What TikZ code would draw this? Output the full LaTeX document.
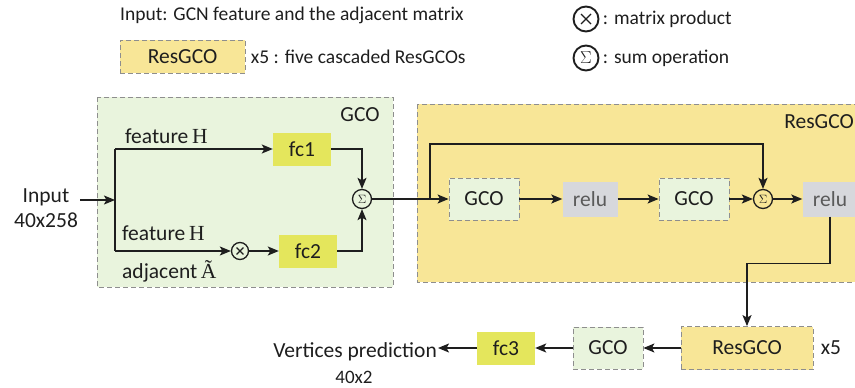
\documentclass[tikz,border=0pt]{standalone}
\usepackage[no-math]{fontspec}
\setmainfont{Carlito}
\newfontfamily\symserif{Liberation Serif}
\usetikzlibrary{arrows.meta,calc,positioning}
\definecolor{gcogreen}{HTML}{E9F4DD}
\definecolor{resyellow}{HTML}{F8E697}
\definecolor{fcyellow}{HTML}{E4E65C}
\definecolor{relugray}{HTML}{D7D8DC}
\definecolor{relutext}{HTML}{5A5A5A}
\definecolor{dashgray}{HTML}{8E8E8E}
\definecolor{inkdark}{HTML}{1E1E1E}

\begin{document}
\begin{tikzpicture}[x=1pt,y=-1pt,>={Stealth[length=11pt,width=9pt,inset=2.5pt]},
  font=\fontsize{21.5}{24}\selectfont,text=inkdark,
  legendtext/.style={font=\fontsize{19.5}{22}\selectfont},
  flow/.style={draw=inkdark,line width=1.5pt},
  gcobox/.style={draw=dashgray,dash pattern=on 5pt off 3pt,line width=0.8pt,fill=gcogreen,minimum width=70pt,minimum height=42pt,inner sep=0pt},
  resbox/.style={draw=dashgray,dash pattern=on 5pt off 3pt,line width=0.8pt,fill=resyellow,minimum width=132pt,minimum height=43pt,inner sep=0pt},
  fcbox/.style={fill=fcyellow,minimum width=58pt,minimum height=33pt,inner sep=0pt},
  relubox/.style={fill=relugray,text=relutext,minimum width=55pt,minimum height=35pt,inner sep=0pt},
  sumop/.style={circle,draw=inkdark,line width=1.3pt,minimum size=19pt,inner sep=0pt,font=\fontsize{13}{13}\selectfont},
  mulop/.style={circle,draw=inkdark,line width=1.3pt,minimum size=#1,inner sep=0pt,
    path picture={\draw[line width=1.3pt] ($(path picture bounding box.north west)!0.3!(path picture bounding box.south east)$) -- ($(path picture bounding box.north west)!0.7!(path picture bounding box.south east)$)
      ($(path picture bounding box.north east)!0.3!(path picture bounding box.south west)$) -- ($(path picture bounding box.north east)!0.7!(path picture bounding box.south west)$);}},
  mulop/.default=17pt,
  tag/.style={inner sep=0pt}]
\useasboundingbox (0,0) rectangle (855,388);

% legend
\node[legendtext,anchor=west,inner sep=1pt] (title) at (119,15) {Input: GCN feature and the adjacent matrix};
\node[resbox,minimum width=125pt,minimum height=33pt] (legres) at (182.5,56.5) {ResGCO};
\node[legendtext,right=2pt of legres] (legtxt) {x5 : five cascaded ResGCOs};
\node[mulop=25pt,line width=1.9pt] (legmul) at (586,19) {};
\node[legendtext,right=0pt of legmul] (legmultxt) {: matrix product};
\node[sumop,line width=1.9pt,minimum size=25pt,font=\fontsize{17}{17}\selectfont] (legsum) at (586,58) {$\Sigma$};
\node[legendtext,right=0pt of legsum] (legsumtxt) {: sum operation};

% containers
\path[draw=dashgray,dash pattern=on 5pt off 3pt,line width=0.8pt,fill=gcogreen] (97,97) rectangle (393,287);
\path[draw=dashgray,dash pattern=on 5pt off 3pt,line width=0.8pt,fill=resyellow] (417,104) rectangle (860,282);
\node (gcotag) at (360,115) {GCO};
\node (restag) at (819,122) {ResGCO};

% GCO block
\node[anchor=base] (inp) at (46,202) {Input};
\node[anchor=base] (inpsize) at (46,227) {40x258};
\coordinate (instart) at (80,200);
\coordinate (split) at (115,200);
\coordinate (top) at (115,149);
\coordinate (bot) at (115,251);
\node[fcbox] (fc1) at (302,149) {fc1};
\node[mulop] (mul) at (240,251) {};
\node[fcbox] (fc2) at (308,251) {fc2};
\node[sumop] (sum1) at (362,199) {$\Sigma$};
\node[tag,anchor=base west] (ftop) at (125,143) {feature\,{\symserif H}};
\node[tag,anchor=base west] (fbot) at (122,240) {feature\,{\symserif H}};
\node[tag,anchor=base west] (adj) at (122,278) {adjacent\,{\symserif Ã}};

% ResGCO block
\node[gcobox] (gcoa) at (484,199) {GCO};
\node[relubox] (relu1) at (590,199) {relu};
\node[gcobox] (gcob) at (694,199) {GCO};
\node[sumop] (sum2) at (763,199) {$\Sigma$};
\node[relubox] (relu2) at (830,199) {relu};
\coordinate (skip) at (430,199);
\coordinate (skiptop) at (430,144);

% output row
\node[resbox] (ress) at (747,348) {ResGCO};
\node[right=4pt of ress] (times) {x5};
\node[gcobox] (gcos) at (608,348) {GCO};
\node[fcbox] (fc3) at (506,348) {fc3};
\node[anchor=base east,inner sep=1pt] (vert) at (438,357) {Vertices prediction};
\node[anchor=base,font=\fontsize{19}{21}\selectfont] (vertsize) at (354,383) {40x2};

\draw[flow,->] (instart) -- (split);
\draw[flow] (top) -- (bot);
\draw[flow,->] (top) -- (fc1.west);
\draw[flow,->] (bot) -- (mul.west);
\draw[flow,->] (mul) -- (fc2);
\draw[flow,->] (fc1.east) -| (sum1.north);
\draw[flow,->] (fc2.east) -| (sum1.south);
\draw[flow,->] (sum1.east) -- (gcoa.west);
\draw[flow,->] (skip) -- (skiptop) -| (sum2.north);
\draw[flow,->] (gcoa) -- (relu1);
\draw[flow,->] (relu1) -- (gcob);
\draw[flow,->] (gcob) -- (sum2);
\draw[flow,->] (sum2) -- (relu2);
\draw[flow,->] (relu2.south) -- ++(0,47) -| (ress.north);
\draw[flow,->] (ress) -- (gcos);
\draw[flow,->] (gcos) -- (fc3);
\draw[flow,->] (fc3.west) -- (fc3.west -| vert.east);
\end{tikzpicture}
\end{document}
